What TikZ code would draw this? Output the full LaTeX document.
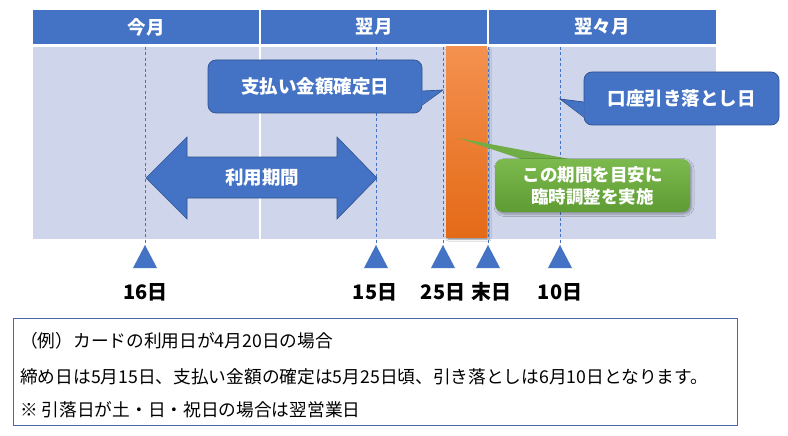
\documentclass[tikz,border=0pt]{standalone}
\usepackage{fontspec}
\setmainfont{Noto Sans CJK JP}
\usetikzlibrary{calc,shadows.blur}
\definecolor{hdr}{HTML}{4472C4}
\definecolor{bodyc}{HTML}{CFD5EA}
\definecolor{edgec}{HTML}{2F528F}
\definecolor{orA}{HTML}{F4914F}
\definecolor{orB}{HTML}{E46A17}
\definecolor{grA}{HTML}{7CBA4E}
\definecolor{grB}{HTML}{5E9C34}
\definecolor{grP}{HTML}{70AD47}
\definecolor{boxc}{HTML}{4A6AA5}
\begin{document}
\begin{tikzpicture}[x=1pt,y=-1pt,
  hdrtext/.style={text=white,font=\bfseries\fontsize{18.5}{22}\selectfont},
  bluecall/.style={fill=hdr,draw=edgec,line width=0.7pt,rounded corners=8pt,text=white,
     font=\bfseries\fontsize{18.5}{22}\selectfont,inner sep=0pt},
  bluetip/.style={fill=hdr},
  bluetipedge/.style={draw=edgec,line width=0.7pt},
  dashline/.style={draw=hdr,line width=0.7pt,dash pattern=on 3pt off 2.5pt},
  daytri/.style={fill=hdr},
  daylabel/.style={font=\bfseries\fontsize{20}{24}\selectfont,text=black},
  sepline/.style={white,line width=1.5pt},
  notetext/.style={anchor=west,font=\fontsize{17.7}{20}\selectfont,inner sep=0pt},
  softshadow/.style={blur shadow={shadow xshift=1.5pt,shadow yshift=-2pt,shadow blur radius=2.5pt,shadow opacity=35}}]
\useasboundingbox (0,0) rectangle (788,436);
\fill[white] (0,0) rectangle (788,436);
% header
\fill[hdr] (33,10) rectangle (716,44);
\draw[sepline] (260,10) -- (260,44);
\draw[sepline] (488,10) -- (488,44);
\node[hdrtext] (m0) at (146,27) {今月};
\node[hdrtext] (m1) at (374,27) {翌月};
\node[hdrtext] (m2) at (602,27) {翌々月};
% body
\fill[bodyc] (33,47) rectangle (716,239);
\draw[sepline] (260,47) -- (260,239);
\draw[sepline] (488,47) -- (488,239);
% period arrow
\fill[hdr,draw=edgec,line width=0.6pt] (146,178) -- (187,137) -- (187,157) -- (337,157) -- (337,137)
  -- (377,178) -- (337,219) -- (337,198) -- (187,198) -- (187,219) -- cycle;
\node[text=white,font=\bfseries\fontsize{18.5}{22}\selectfont] (use) at (262,178) {利用期間};
% orange bar
\node[top color=orA,bottom color=orB,minimum width=41pt,minimum height=190pt,inner sep=0pt,
  blur shadow={shadow xshift=2pt,shadow yshift=-2pt,shadow blur radius=2pt,shadow opacity=40}] (bar) at (466.5,142) {};
% day markers
\foreach \n/\x in {16/145,15/376,25/443,end/488,10/560}{
  \coordinate (u\n) at (\x,47);
  \coordinate (d\n) at (\x,245);
  \draw[dashline] (u\n) -- (d\n);
  \fill[daytri] (d\n) -- ++(12,23) -- ++(-24,0) -- cycle;
}
\node[daylabel] (l16) at (145.5,292) {16日};
\node[daylabel] (l15) at (375,292) {15日};
\node[daylabel] (l25) at (443,292) {25日};
\node[daylabel] (lend) at (491,292) {末日};
\node[daylabel] (l10) at (560,292) {10日};
% callout: payment fixed
\node[bluecall,minimum width=214pt,minimum height=53pt] (pay) at (315,86.5) {支払い金額確定日};
\coordinate (paytip) at (443,90);
\fill[bluetip] ($(pay.east)+(-1,4.5)$) -- (paytip) -- ($(pay.east)+(-1,18.5)$) -- cycle;
\draw[bluetipedge] ($(pay.east)+(0,4.5)$) -- (paytip) -- ($(pay.east)+(0,18.5)$);
% callout: debit date
\node[bluecall,minimum width=195pt,minimum height=53pt] (debit) at (681.5,98.5) {口座引き落とし日};
\coordinate (debtip) at (560,99);
\fill[bluetip] ($(debit.west)+(1,3.5)$) -- (debtip) -- ($(debit.west)+(1,18.5)$) -- cycle;
\draw[bluetipedge] ($(debit.west)+(0,3.5)$) -- (debtip) -- ($(debit.west)+(0,18.5)$);
% green callout
\coordinate (adjtip) at (458,138);
\fill[grP] (adjtip) -- (527,161) -- (580,161) -- cycle;
\node[top color=grA,bottom color=grB,rounded corners=8pt,minimum width=195pt,minimum height=53pt,
  inner sep=0pt,align=center,text=white,font=\bfseries\fontsize{17.5}{22}\selectfont,softshadow]
  (adj) at (592.5,185.5) {この期間を目安に\\臨時調整を実施};
% note box
\node[draw=boxc,line width=0.8pt,minimum width=724pt,minimum height=107pt,inner sep=0pt] (note) at (375,371.5) {};
\node[notetext] (n1) at (20,341) {（例）カードの利用日が4月20日の場合};
\node[notetext] (n2) at (20,377) {締め日は5月15日、支払い金額の確定は5月25日頃、引き落としは6月10日となります。};
\node[notetext] (n3) at (20,410) {※ 引落日が土・日・祝日の場合は翌営業日};
\end{tikzpicture}
\end{document}
